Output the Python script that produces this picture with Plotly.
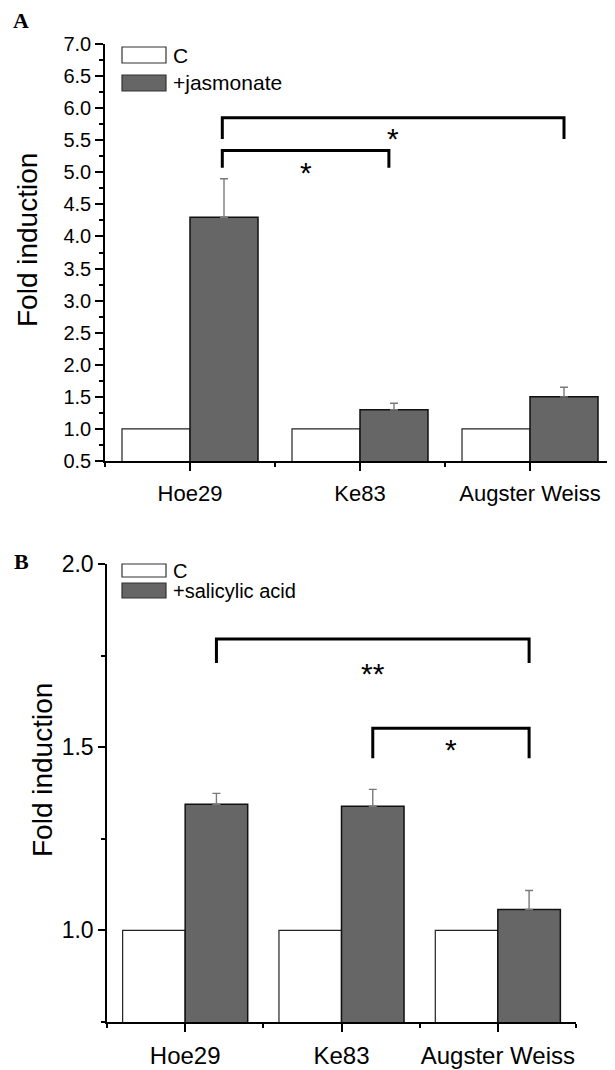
import plotly.graph_objects as go

# page body has an 8px default margin; compensate so the figure sits at the window origin
OFF = 8
W, H = 615 - OFF, 1070 - OFF

# ---------------- data ----------------
cultivars = ["Hoe29", "Ke83", "Augster Weiss"]

# Panel A (jasmonate)
a_control = [1.0, 1.0, 1.0]
a_jasmonate = [4.3, 1.3, 1.5]
a_jasmonate_err = [0.6, 0.1, 0.15]
# significance brackets: (x start, x end, bar top y, arm bottom y, label, label y)
a_brackets = [(0.19, 2.2, 5.85, 5.52, "*", 5.52),
              (0.19, 1.17, 5.34, 5.07, "*", 5.0)]

# Panel B (salicylic acid)
b_control = [1.0, 1.0, 1.0]
b_salicylic = [1.344, 1.339, 1.057]
b_salicylic_err = [0.03, 0.046, 0.052]
b_brackets = [(0.2, 2.2, 1.795, 1.73, "**", 1.70),
              (1.2, 2.2, 1.552, 1.47, "*", 1.495)]

FONT = "Liberation Sans, Arial, sans-serif"
SERIF = "Liberation Serif, Times New Roman, serif"
GRAY = "#666666"


def px(x):
    return (x - OFF) / W


def py(y):
    return 1 - (y - OFF) / H


fig = go.Figure()
xs = list(range(len(cultivars)))

# Panel A bars
fig.add_trace(go.Bar(x=xs, y=a_control, xaxis="x", yaxis="y",
                     marker=dict(color="white", line=dict(color="#222222", width=1.2)),
                     showlegend=False, name="C"))
fig.add_trace(go.Bar(x=xs, y=a_jasmonate, xaxis="x", yaxis="y",
                     marker=dict(color=GRAY, line=dict(color="#111111", width=1.5)),
                     error_y=dict(type="data", array=a_jasmonate_err, symmetric=False,
                                  arrayminus=[0, 0, 0], color="#7a7a7a", thickness=1.4, width=4),
                     showlegend=False, name="+jasmonate"))
# Panel B bars
fig.add_trace(go.Bar(x=xs, y=b_control, xaxis="x2", yaxis="y2",
                     marker=dict(color="white", line=dict(color="#222222", width=1.2)),
                     showlegend=False, name="C"))
fig.add_trace(go.Bar(x=xs, y=b_salicylic, xaxis="x2", yaxis="y2",
                     marker=dict(color=GRAY, line=dict(color="#111111", width=1.5)),
                     error_y=dict(type="data", array=b_salicylic_err, symmetric=False,
                                  arrayminus=[0, 0, 0], color="#7a7a7a", thickness=1.4, width=4),
                     showlegend=False, name="+salicylic acid"))

annotations = []
# significance brackets
for brs, xa, ya in [(a_brackets, "x", "y"), (b_brackets, "x2", "y2")]:
    for x0, x1, ytop, ylow, lab, ylab in brs:
        fig.add_trace(go.Scatter(x=[x0, x0, x1, x1], y=[ylow, ytop, ytop, ylow],
                                 mode="lines", line=dict(color="black", width=3),
                                 xaxis=xa, yaxis=ya, showlegend=False, hoverinfo="skip"))
        annotations.append(dict(x=(x0 + x1) / 2, y=ylab, xref=xa, yref=ya, text=lab,
                                showarrow=False, xanchor="center", yanchor="middle",
                                font=dict(family=FONT, size=30, color="black")))

axis_common = dict(showline=True, linecolor="black", linewidth=1.5, showgrid=False,
                   zeroline=False, ticks="outside", tickcolor="black", tickwidth=1.5,
                   mirror=False, automargin=False)

fig.update_layout(
    width=W, height=H, margin=dict(l=0, r=0, t=0, b=0, pad=0), autosize=False,
    paper_bgcolor="white", plot_bgcolor="white",
    barmode="group", bargap=0.2, bargroupgap=0,
    xaxis=dict(domain=[px(105), 1.0], range=[-0.5, 2.5], anchor="y",
               tickvals=xs, ticktext=cultivars, ticklen=8, ticklabelstandoff=4,
               tickfont=dict(family=FONT, size=22, color="black"),
               minor=dict(ticks="outside", tick0=0.5, dtick=1, ticklen=4,
                          tickcolor="black", tickwidth=1.5),
               **axis_common),
    yaxis=dict(domain=[py(461), py(44)], range=[0.5, 7.0], anchor="x",
               dtick=0.5, tick0=0.5, tickformat=".1f", ticklen=8,
               tickfont=dict(family=FONT, size=20, color="black"),
               minor=dict(ticks="outside", dtick=0.25, ticklen=4,
                          tickcolor="black", tickwidth=1.5),
               **axis_common),
    xaxis2=dict(domain=[px(107), px(576)], range=[-0.5, 2.5], anchor="y2",
                tickvals=xs, ticktext=cultivars, ticklen=8, ticklabelstandoff=3,
                tickfont=dict(family=FONT, size=24, color="black"),
                minor=dict(ticks="outside", tick0=0.5, dtick=1, ticklen=4,
                           tickcolor="black", tickwidth=1.5),
                **axis_common),
    yaxis2=dict(domain=[py(1022), py(564)], range=[0.75, 2.0], anchor="x2",
                tickvals=[1.0, 1.5, 2.0], tickformat=".1f", ticklen=7,
                tickfont=dict(family=FONT, size=23, color="black"),
                minor=dict(ticks="outside", tick0=0.75, dtick=0.25, ticklen=4,
                           tickcolor="black", tickwidth=1.5),
                **axis_common),
)

# axis titles
annotations.append(dict(x=px(27), y=py(240), xref="paper", yref="paper", text="Fold induction",
                        textangle=-90, showarrow=False, xanchor="center", yanchor="middle",
                        font=dict(family=FONT, size=28, color="black")))
annotations.append(dict(x=px(42), y=py(770), xref="paper", yref="paper", text="Fold induction",
                        textangle=-90, showarrow=False, xanchor="center", yanchor="middle",
                        font=dict(family=FONT, size=28, color="black")))
# panel letters
annotations.append(dict(x=px(21), y=py(20), xref="paper", yref="paper", text="<b>A</b>",
                        showarrow=False, xanchor="center", yanchor="middle",
                        font=dict(family=SERIF, size=22, color="black")))
annotations.append(dict(x=px(21), y=py(561), xref="paper", yref="paper", text="<b>B</b>",
                        showarrow=False, xanchor="center", yanchor="middle",
                        font=dict(family=SERIF, size=22, color="black")))

# custom legends (wide swatches)
shapes = []
legends = [
    [(47, 63, "white", "C", 21), (75, 91, GRAY, "+jasmonate", 21)],
    [(564, 577, "white", "C", 20), (583, 598, GRAY, "+salicylic acid", 20)],
]
for items in legends:
    for y0, y1, col, lab, fs in items:
        shapes.append(dict(type="rect", xref="paper", yref="paper",
                           x0=px(122), x1=px(166), y0=py(y1), y1=py(y0),
                           fillcolor=col, line=dict(color="#333333", width=1.2)))
        annotations.append(dict(x=px(171), y=py((y0 + y1) / 2), xref="paper", yref="paper",
                                text=lab, showarrow=False, xanchor="left", yanchor="middle",
                                font=dict(family=FONT, size=fs, color="black")))

fig.update_layout(annotations=annotations, shapes=shapes)
fig.write_html("out.html")
